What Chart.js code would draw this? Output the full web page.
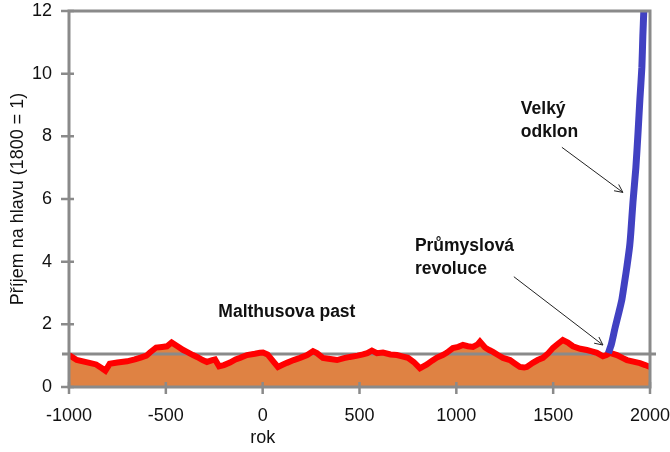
<!DOCTYPE html>
<html>
<head>
<meta charset="utf-8">
<script src="https://cdn.jsdelivr.net/npm/chart.js@4/dist/chart.umd.min.js"></script>
<style>
  html, body { margin: 0; padding: 0; background: #ffffff; }
  #wrap { width: 670px; height: 452px; }
</style>
</head>
<body>
<div id="wrap"><canvas id="c" width="670" height="452"></canvas></div>
<script>
// ---- data ----
const years = [-1000,-960,-900,-860,-830,-812,-790,-750,-700,-660,-630,-600,-582,-550,-520,-494,-470,-440,-410,-391,-360,-339,-310,-288,-260,-246,-225,-200,-169,-140,-117,-81,-40,-14,2,25,40,60,79,100,125,160,193,230,260,280,311,340,384,420,451,490,518,540,564,590,621,660,693,720,750,780,812,830,848,875,900,930,952,982,1010,1034,1060,1086,1110,1122,1148,1170,1189,1215,1241,1277,1300,1328,1350,1364,1395,1420,1447,1475,1499,1525,1550,1576,1602,1640,1674,1700,1726,1757,1775,1793,1829,1860,1881,1920,1948,1975,2000];
const income = [1.02,0.86,0.78,0.72,0.60,0.52,0.74,0.78,0.82,0.88,0.94,1.00,1.10,1.26,1.28,1.30,1.42,1.30,1.18,1.12,1.02,0.96,0.86,0.80,0.86,0.88,0.66,0.70,0.78,0.88,0.93,1.02,1.06,1.09,1.10,1.04,0.93,0.78,0.64,0.70,0.77,0.86,0.93,1.02,1.14,1.08,0.93,0.90,0.86,0.92,0.96,1.00,1.04,1.08,1.16,1.08,1.10,1.04,1.02,0.98,0.93,0.80,0.60,0.66,0.72,0.84,0.94,1.02,1.10,1.24,1.28,1.34,1.30,1.28,1.36,1.45,1.26,1.18,1.12,1.02,0.93,0.86,0.76,0.64,0.62,0.64,0.77,0.86,0.93,1.08,1.25,1.38,1.50,1.42,1.30,1.22,1.18,1.14,1.09,0.98,1.02,1.09,1.02,0.92,0.86,0.80,0.76,0.70,0.64];
const modernYears = [1785,1800,1820,1840,1855,1870,1881,1895,1901,1912,1927,1938,1948,1958,1963,1968,1973];
const modernIncome = [1.08,1.35,1.9,2.4,2.8,3.4,3.85,4.5,4.93,5.9,7.0,8.1,9.2,10.2,11.2,12.0,12.9];
const refYears = [-1040, 2040];
const refLevel = [1.05, 1.05];
const xTicks = [-1000,-500,0,500,1000,1500,2000];
const xTickLabels = ['-1000','-500','0','500','1000','1500','2000'];
const yTicks = [0,2,4,6,8,10,12];
const yTickLabels = ['0','2','4','6','8','10','12'];
const xTitle = 'rok';
const yTitle = 'Příjem na hlavu (1800 = 1)';
const notes = [
  { lines: ['Malthusova past'], x: 125, y: 2.4, align: 'center' },
  { lines: ['Průmyslová', 'revoluce'], x: 786, y: 4.51, align: 'left' },
  { lines: ['Velký', 'odklon'], x: 1333, y: 8.86, align: 'left' }
];
const arrows = [
  { from: [1297, 3.52], to: [1757, 1.34] },
  { from: [1545, 7.65], to: [1860, 6.21] }
];

// ---- styles ----
const GRAY = '#8a8a8a';
const FONT = '"Liberation Sans", Arial, sans-serif';

const pts = (xs, ys) => xs.map((v, i) => ({ x: v, y: ys[i] }));
const noPad = s => { s.paddingLeft = 0; s.paddingRight = 0; s.paddingTop = 0; s.paddingBottom = 0; };

const decor = {
  id: 'decor',
  afterDatasetsDraw(chart) {
    const { ctx, chartArea: a, scales: { x, y } } = chart;
    ctx.save();
    // frame
    ctx.strokeStyle = GRAY;
    ctx.lineWidth = 3;
    ctx.strokeRect(a.left, a.top, a.right - a.left, a.bottom - a.top);
    // tick marks crossing axes
    ctx.lineWidth = 2.5;
    ctx.beginPath();
    yTicks.forEach(v => { const py = y.getPixelForValue(v); ctx.moveTo(a.left - 8, py); ctx.lineTo(a.left + 5, py); });
    xTicks.forEach(v => { const px = x.getPixelForValue(v); ctx.moveTo(px, a.bottom - 5); ctx.lineTo(px, a.bottom + 7); });
    ctx.stroke();
    // arrows
    ctx.strokeStyle = '#222';
    ctx.lineWidth = 1;
    arrows.forEach(ar => {
      const x1 = x.getPixelForValue(ar.from[0]), y1 = y.getPixelForValue(ar.from[1]);
      const x2 = x.getPixelForValue(ar.to[0]), y2 = y.getPixelForValue(ar.to[1]);
      const ang = Math.atan2(y2 - y1, x2 - x1);
      const L = 9, w = 0.45;
      ctx.beginPath();
      ctx.moveTo(x1, y1); ctx.lineTo(x2, y2);
      ctx.moveTo(x2 - L * Math.cos(ang - w), y2 - L * Math.sin(ang - w));
      ctx.lineTo(x2, y2);
      ctx.lineTo(x2 - L * Math.cos(ang + w), y2 - L * Math.sin(ang + w));
      ctx.stroke();
    });
    // annotation texts
    ctx.fillStyle = '#111';
    ctx.font = 'bold 17.5px ' + FONT;
    ctx.textBaseline = 'middle';
    notes.forEach(n => {
      ctx.textAlign = n.align;
      const px = x.getPixelForValue(n.x), py = y.getPixelForValue(n.y);
      n.lines.forEach((t, i) => ctx.fillText(t, px, py + i * 23));
    });
    // axis titles
    ctx.font = '18px ' + FONT;
    ctx.textAlign = 'center';
    ctx.fillText(xTitle, x.getPixelForValue(0), a.bottom + 51);
    ctx.translate(18, (a.top + a.bottom) / 2);
    ctx.rotate(-Math.PI / 2);
    ctx.fillText(yTitle, 0, 0);
    ctx.restore();
  }
};

new Chart(document.getElementById('c'), {
  type: 'line',
  data: {
    datasets: [
      { label: 'modern', data: pts(modernYears, modernIncome), borderColor: '#4141c2', borderWidth: 7, pointRadius: 0, fill: false, tension: 0.2, order: 0 },
      { label: 'income', data: pts(years, income), borderColor: '#ff0000', borderWidth: 6, pointRadius: 0, fill: false, tension: 0, order: 1 },
      { label: 'level', data: pts(refYears, refLevel), borderColor: GRAY, borderWidth: 3, pointRadius: 0, fill: false, order: 2, clip: { left: 7, right: 6, top: 0, bottom: 0 } },
      { label: 'area', data: pts(years, income), borderWidth: 0, borderColor: 'rgba(0,0,0,0)', backgroundColor: '#df8243', pointRadius: 0, fill: 'origin', tension: 0, order: 3 }
    ]
  },
  options: {
    responsive: false,
    animation: false,
    events: [],
    layout: { padding: { top: 11, right: 20, left: 0, bottom: 0 } },
    plugins: { legend: { display: false }, tooltip: { enabled: false } },
    scales: {
      x: {
        type: 'linear', min: -1000, max: 2000,
        afterFit: s => { s.height = 65; noPad(s); },
        afterBuildTicks: s => { s.ticks = xTicks.map(v => ({ value: v })); },
        grid: { display: false, drawTicks: false },
        border: { display: false },
        ticks: { padding: 18, color: '#111', font: { family: FONT, size: 18 }, maxRotation: 0, autoSkip: false,
          callback: (v, i) => xTickLabels[i] }
      },
      y: {
        type: 'linear', min: 0, max: 12,
        afterFit: s => { s.width = 69; noPad(s); },
        afterBuildTicks: s => { s.ticks = yTicks.map(v => ({ value: v })); },
        grid: { display: false, drawTicks: false },
        border: { display: false },
        ticks: { padding: 17, color: '#111', font: { family: FONT, size: 18 }, autoSkip: false,
          callback: (v, i) => yTickLabels[i] }
      }
    }
  },
  plugins: [decor]
});
</script>
</body>
</html>
